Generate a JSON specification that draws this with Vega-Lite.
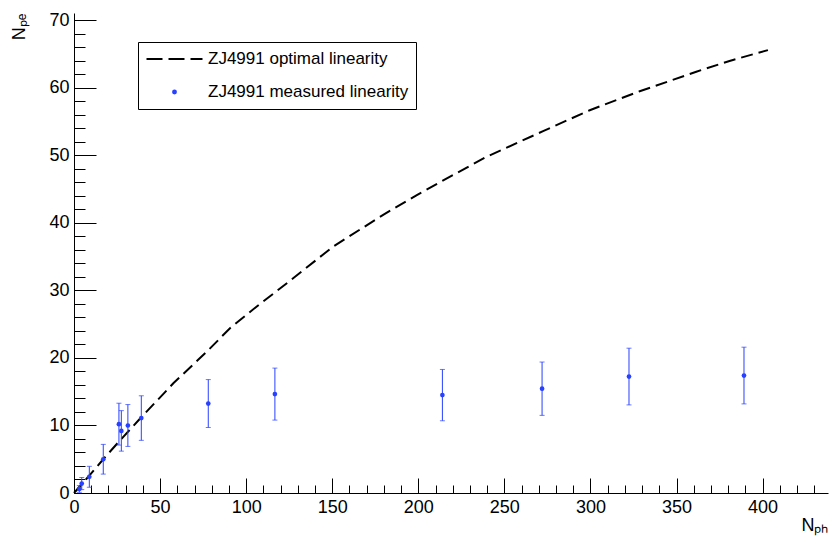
{
  "$schema": "https://vega.github.io/schema/vega-lite/v6.json",
  "autosize": "none",
  "width": 754,
  "height": 480,
  "padding": {"left": 74, "top": 13, "right": 2, "bottom": 45},
  "background": "white",
  "config": {
    "view": {"stroke": null},
    "font": "Liberation Sans",
    "axis": {
      "grid": false,
      "domainColor": "black",
      "domainWidth": 1,
      "tickColor": "black",
      "tickWidth": 1,
      "labelFont": "Liberation Sans",
      "labelFontSize": 18,
      "labelColor": "black",
      "titleFont": "Liberation Sans",
      "titleFontSize": 18,
      "titleFontWeight": "normal",
      "titleColor": "black",
      "labelFlush": false,
      "labelOverlap": false
    }
  },
  "datasets": {
    "optimal": [
      {"nph": 0, "npe": 0},
      {"nph": 10, "npe": 2.9},
      {"nph": 17, "npe": 5.0},
      {"nph": 25, "npe": 7.3},
      {"nph": 38.3, "npe": 11.0},
      {"nph": 57.7, "npe": 16.25},
      {"nph": 77, "npe": 20.9},
      {"nph": 90.6, "npe": 24.4},
      {"nph": 106, "npe": 27.6},
      {"nph": 127.3, "npe": 31.8},
      {"nph": 150.5, "npe": 36.5},
      {"nph": 179.6, "npe": 41.2},
      {"nph": 198.9, "npe": 44.1},
      {"nph": 220.2, "npe": 47.1},
      {"nph": 239.6, "npe": 49.8},
      {"nph": 272.5, "npe": 53.6},
      {"nph": 299.6, "npe": 56.7},
      {"nph": 328.6, "npe": 59.5},
      {"nph": 361.5, "npe": 62.4},
      {"nph": 380.8, "npe": 64.0},
      {"nph": 403.1, "npe": 65.6}
    ],
    "measured": [
      {"nph": 3.1, "npe": 0.6, "err": 0.5},
      {"nph": 4.5, "npe": 1.4, "err": 0.9},
      {"nph": 8.9, "npe": 2.4, "err": 1.55},
      {"nph": 17.0, "npe": 5.0, "err": 2.2},
      {"nph": 26.1, "npe": 10.2, "err": 3.1},
      {"nph": 27.5, "npe": 9.2, "err": 3.0},
      {"nph": 31.3, "npe": 10.0, "err": 3.1},
      {"nph": 39.1, "npe": 11.1, "err": 3.3},
      {"nph": 78.0, "npe": 13.25, "err": 3.55},
      {"nph": 116.7, "npe": 14.65, "err": 3.85},
      {"nph": 214.0, "npe": 14.5, "err": 3.8},
      {"nph": 271.9, "npe": 15.45, "err": 3.95},
      {"nph": 322.4, "npe": 17.25, "err": 4.2},
      {"nph": 389.2, "npe": 17.4, "err": 4.2}
    ]
  },
  "encoding": {
    "x": {
      "field": "nph",
      "type": "quantitative",
      "scale": {"domain": [0, 438], "nice": false, "zero": false},
      "axis": {
        "title": "Nₚₕ",
        "titleAnchor": "end",
        "titleAlign": "right",
        "titleX": 754,
        "titleY": 37,
        "titleBaseline": "alphabetic",
        "values": [0,10,20,30,40,50,60,70,80,90,100,110,120,130,140,150,160,170,180,190,200,210,220,230,240,250,260,270,280,290,300,310,320,330,340,350,360,370,380,390,400,410,420,430],
        "labelExpr": "datum.value % 50 === 0 ? datum.label : ''",
        "tickSize": {"condition": {"test": "datum.value % 50 === 0", "value": -15}, "value": -8},
        "labelPadding": 20
      }
    },
    "y": {
      "field": "npe",
      "type": "quantitative",
      "scale": {"domain": [0, 71.1], "nice": false, "zero": false},
      "axis": {
        "title": "Nₚₑ",
        "titleAnchor": "end",
        "titleAlign": "right",
        "titleX": -50,
        "titleY": 0,
        "titleBaseline": "alphabetic",
        "values": [0,2,4,6,8,10,12,14,16,18,20,22,24,26,28,30,32,34,36,38,40,42,44,46,48,50,52,54,56,58,60,62,64,66,68,70],
        "labelExpr": "datum.value % 10 === 0 ? datum.label : ''",
        "tickSize": {"condition": {"test": "datum.value % 10 === 0", "value": -22}, "value": -11},
        "labelPadding": 27
      }
    }
  },
  "layer": [
    {
      "data": {"name": "optimal"},
      "mark": {"type": "line", "strokeDash": [12, 6], "strokeWidth": 2},
      "encoding": {
        "color": {
          "datum": "ZJ4991 optimal linearity",
          "type": "nominal",
          "scale": {"domain": ["ZJ4991 optimal linearity", "ZJ4991 measured linearity"], "range": ["black", "#2840ff"]},
          "legend": {
            "title": null,
            "orient": "none",
            "legendX": 64,
            "legendY": 29,
            "strokeColor": "black",
            "fillColor": "white",
            "padding": 7,
            "labelFont": "Liberation Sans",
            "labelFontSize": 17,
            "labelColor": "black",
            "labelOffset": 25,
            "labelLimit": 0,
            "symbolOffset": 21,
            "symbolSize": 3136,
            "symbolType": "stroke",
            "symbolStrokeWidth": 2,
            "rowPadding": 13,
            "clipHeight": 20,
            "encode": {
              "symbols": {
                "update": {
                  "shape": {"signal": "datum.value === 'ZJ4991 optimal linearity' ? 'stroke' : 'circle'"},
                  "size": {"signal": "datum.value === 'ZJ4991 optimal linearity' ? 3136 : 24"},
                  "strokeDash": {"signal": "datum.value === 'ZJ4991 optimal linearity' ? [16, 6] : [1, 0]"},
                  "fill": {"signal": "datum.value === 'ZJ4991 optimal linearity' ? 'transparent' : '#2840ff'"},
                  "stroke": {"signal": "datum.value === 'ZJ4991 optimal linearity' ? 'black' : '#2840ff'"},
                  "strokeWidth": {"signal": "datum.value === 'ZJ4991 optimal linearity' ? 2 : 0"},
                  "opacity": {"value": 1}
                }
              }
            }
          }
        }
      }
    },
    {
      "data": {"name": "measured"},
      "mark": {"type": "errorbar", "color": "#2840ff", "ticks": true},
      "encoding": {
        "y": {"field": "npe", "type": "quantitative"},
        "yError": {"field": "err"}
      }
    },
    {
      "data": {"name": "measured"},
      "mark": {"type": "point", "filled": true, "size": 22, "opacity": 1},
      "encoding": {
        "color": {"datum": "ZJ4991 measured linearity", "type": "nominal"}
      }
    }
  ]
}
